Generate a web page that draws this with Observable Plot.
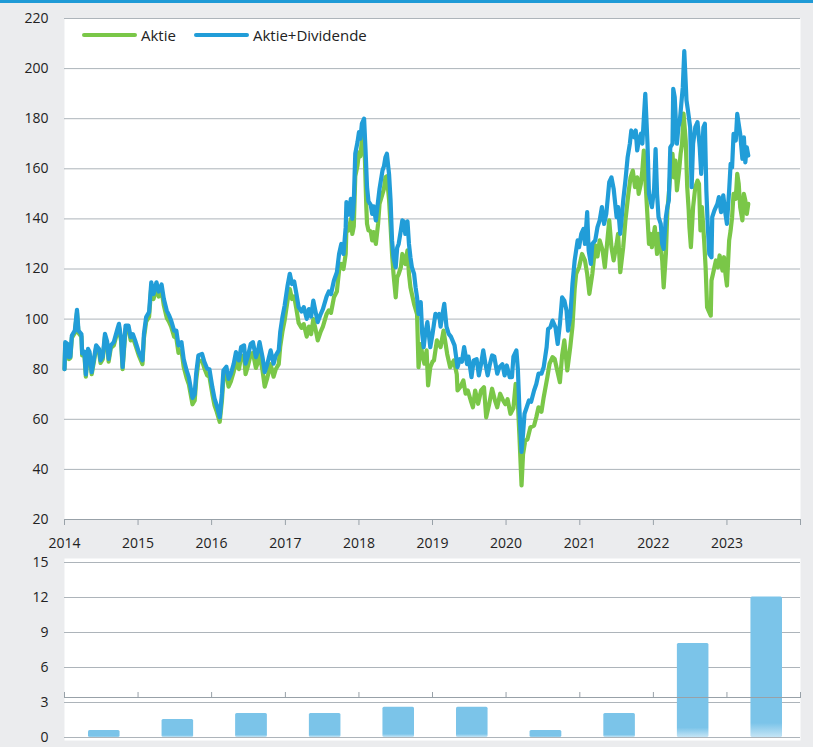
<!DOCTYPE html>
<html>
<head>
<meta charset="utf-8">
<script src="https://cdn.jsdelivr.net/npm/d3@7"></script>
<script src="https://cdn.jsdelivr.net/npm/@observablehq/plot@0.6"></script>
<style>
  html, body { margin: 0; padding: 0; }
  body { width: 813px; height: 747px; background: #ebecee; position: relative; overflow: hidden; font-family: "Open Sans", "Noto Sans", sans-serif; }
  #topbar { position: absolute; left: 0; top: 0; width: 813px; height: 3px; background: #1f9ad6; }
  #topwrap { position: absolute; left: 0; top: 0; }
  #bottomwrap { position: absolute; left: 0; top: 550px; }
  #legend { position: absolute; left: 82px; top: 25px; font-size: 15px; color: #222; display: flex; align-items: center; }
  .sw { display: inline-block; width: 55px; height: 4px; border-radius: 2px; margin-right: 4px; }
  .item { display: flex; align-items: center; margin-right: 4px; }
</style>
</head>
<body>
<div id="topwrap"></div>
<div id="bottomwrap"></div>
<div id="topbar"></div>
<div id="legend"></div>
<script>
// ---------- data (decimal year, value) ----------
const seriesNames = ["Aktie", "Aktie+Dividende"];
const seriesColors = ["#7ac748", "#219dd8"];

const aktie = [
[2014.00,80],[2014.01,90],[2014.045,89],[2014.06,84],[2014.08,84.5],[2014.10,92.5],[2014.14,94.5],[2014.17,102.5],[2014.19,94.5],[2014.23,93],
[2014.24,85.5],[2014.27,86],[2014.29,77],[2014.32,87],[2014.34,86],[2014.37,78],[2014.40,83],[2014.43,88.5],[2014.47,87],[2014.49,82.5],
[2014.52,84],[2014.55,93],[2014.58,90],[2014.60,83],[2014.63,88.5],[2014.67,89.5],[2014.72,95],[2014.74,97],[2014.77,91],[2014.79,80],
[2014.83,96],[2014.87,96],[2014.90,91.5],[2014.93,92.5],[2014.96,90],[2015.01,85.5],[2015.06,82],[2015.08,92.5],[2015.11,99],[2015.15,101],
[2015.18,113],[2015.21,108],[2015.25,112.5],[2015.28,109],[2015.32,111.5],[2015.35,105.5],[2015.39,100.5],[2015.42,99],[2015.45,97],[2015.49,93],
[2015.52,92.5],[2015.55,86.5],[2015.59,87.5],[2015.62,81],[2015.66,76.5],[2015.69,74],[2015.74,66],[2015.77,67.5],[2015.79,75.5],[2015.82,83],
[2015.87,83.5],[2015.90,80.5],[2015.94,77.5],[2015.97,77],[2016.01,70],[2016.04,65.5],[2016.07,63],[2016.11,59],[2016.14,67.5],[2016.16,76.5],
[2016.20,78],[2016.23,73],[2016.26,75],[2016.30,79],[2016.33,83.5],[2016.37,80],[2016.40,85],[2016.44,85.5],[2016.46,78],[2016.49,81],
[2016.53,86],[2016.56,86.5],[2016.60,80.5],[2016.63,83],[2016.65,86],[2016.69,79.5],[2016.72,73],[2016.75,76],[2016.80,82],[2016.84,77],
[2016.87,80],[2016.91,82],[2016.93,89],[2016.96,95],[2016.99,99.5],[2017.03,107.5],[2017.06,112],[2017.09,108],[2017.12,109],[2017.15,104],
[2017.18,98.5],[2017.22,96.5],[2017.25,98],[2017.29,93],[2017.32,97],[2017.35,94],[2017.38,100],[2017.41,96],[2017.44,91.5],[2017.48,95],
[2017.51,97],[2017.56,102],[2017.59,103.5],[2017.62,102.5],[2017.66,108.7],[2017.70,111],[2017.73,119.4],[2017.76,122],[2017.79,120],[2017.82,126],
[2017.83,136.7],[2017.86,135.4],[2017.89,140],[2017.91,134],[2017.93,137],[2017.95,157],[2017.98,161.3],[2018.00,166.6],[2018.02,165],[2018.04,171.3],
[2018.06,173],[2018.08,165],[2018.10,145],[2018.11,138],[2018.13,135.4],[2018.16,135],[2018.18,131.4],[2018.20,134.7],[2018.23,130],[2018.26,138],
[2018.28,146],[2018.32,150],[2018.34,152],[2018.36,156.6],[2018.38,157],[2018.41,147.4],[2018.43,137],[2018.45,126],[2018.47,118],[2018.50,108.7],
[2018.52,116.7],[2018.54,118],[2018.57,120.7],[2018.59,126],[2018.61,123.4],[2018.63,122],[2018.66,127.4],[2018.68,118],[2018.70,112.7],[2018.72,110],
[2018.75,106],[2018.77,104],[2018.79,102],[2018.81,80.8],[2018.84,90],[2018.86,86],[2018.89,82.2],[2018.92,87.5],[2018.94,73.5],[2018.97,80.8],
[2019.00,83],[2019.02,83.5],[2019.06,91.5],[2019.11,88.8],[2019.15,95.4],[2019.20,86],[2019.24,80.8],[2019.29,83.5],[2019.33,78],[2019.34,71.5],
[2019.38,73],[2019.42,75.5],[2019.45,70.2],[2019.48,71.5],[2019.52,67.5],[2019.55,64.8],[2019.58,71.5],[2019.62,66.2],[2019.66,71.5],[2019.70,72.8],
[2019.73,60.8],[2019.77,66],[2019.81,72.2],[2019.85,67.5],[2019.88,64.8],[2019.92,70.2],[2019.96,67.5],[2019.99,66],[2020.02,68],[2020.06,62.2],
[2020.10,64.5],[2020.13,74.1],[2020.15,73],[2020.18,54.2],[2020.21,33.6],[2020.23,46],[2020.26,51.5],[2020.29,52],[2020.33,56.8],[2020.38,57.5],
[2020.41,60.8],[2020.44,64.8],[2020.48,63],[2020.51,68.8],[2020.56,76.8],[2020.59,82.2],[2020.63,84.8],[2020.66,84],[2020.69,80],[2020.73,74.8],
[2020.76,85.5],[2020.79,91.5],[2020.83,79.5],[2020.87,88.8],[2020.90,97],[2020.93,112],[2020.95,118],[2020.99,120.7],[2021.03,126],[2021.07,123.4],
[2021.10,118],[2021.13,110.1],[2021.17,118],[2021.21,129.4],[2021.24,125],[2021.27,131.4],[2021.31,127.4],[2021.34,120.7],[2021.37,130],[2021.40,139.4],
[2021.43,128.7],[2021.46,123.4],[2021.50,130],[2021.52,134],[2021.55,118.7],[2021.59,128.7],[2021.62,139.4],[2021.66,150],[2021.69,156.6],[2021.72,159.3],
[2021.75,152.7],[2021.78,156.6],[2021.80,150],[2021.83,154],[2021.85,159.3],[2021.87,167.3],[2021.89,156.6],[2021.92,140.7],[2021.94,130],[2021.96,134],
[2021.98,128.7],[2022.02,136.7],[2022.05,126],[2022.07,134],[2022.10,128.7],[2022.12,123.4],[2022.14,112.7],[2022.17,126],[2022.19,143.4],[2022.21,150],
[2022.23,158],[2022.26,166],[2022.28,156.6],[2022.30,163.3],[2022.32,151.4],[2022.35,159.3],[2022.37,166],[2022.39,170],[2022.41,182],[2022.44,171],
[2022.46,152.7],[2022.48,143.4],[2022.49,136.7],[2022.51,128.7],[2022.54,144.7],[2022.57,152.7],[2022.60,155.3],[2022.62,154],[2022.64,135.4],[2022.66,144.7],
[2022.69,131.4],[2022.71,120.7],[2022.73,104.8],[2022.75,103.4],[2022.78,101.4],[2022.79,115.4],[2022.81,118],[2022.85,123.4],[2022.88,120.7],[2022.90,125.4],
[2022.94,119.4],[2022.96,124.7],[2022.98,118],[2023.00,113.4],[2023.03,131.4],[2023.05,135.4],[2023.07,140.7],[2023.09,150],[2023.12,148],[2023.14,158],
[2023.16,154],[2023.18,144.7],[2023.21,139.4],[2023.23,150],[2023.25,147.4],[2023.27,142],[2023.29,146]
];

const aktieDividende = [
[2014.00,80],[2014.01,90.8],[2014.045,90],[2014.06,84.8],[2014.08,85],[2014.10,93.4],[2014.14,95.4],[2014.17,103.7],[2014.19,95.4],[2014.23,94],
[2014.24,86.3],[2014.27,87],[2014.29,77.9],[2014.32,88.1],[2014.34,87],[2014.37,78.8],[2014.40,84.1],[2014.43,89.5],[2014.47,88],[2014.49,83.5],
[2014.52,85],[2014.55,94.1],[2014.58,91],[2014.60,84.1],[2014.63,89.5],[2014.67,90.8],[2014.72,96.1],[2014.74,98.1],[2014.77,92.1],[2014.79,80.8],
[2014.83,97.4],[2014.87,97.4],[2014.90,92.8],[2014.93,94],[2014.96,91.5],[2015.01,86.8],[2015.06,83.5],[2015.08,94.1],[2015.11,100.8],[2015.15,102.8],
[2015.18,114.7],[2015.21,110],[2015.25,114.7],[2015.28,111],[2015.32,113.8],[2015.35,108.1],[2015.39,103.4],[2015.42,101.6],[2015.45,99.4],[2015.49,95.4],
[2015.52,95.4],[2015.55,89.5],[2015.59,90.8],[2015.62,84.1],[2015.66,79.5],[2015.69,76.8],[2015.74,68.5],[2015.77,70],[2015.79,78.3],[2015.82,85.5],
[2015.87,86.1],[2015.90,83],[2015.94,80.2],[2015.97,80],[2016.01,72.8],[2016.04,68.2],[2016.07,65.5],[2016.11,60.8],[2016.14,70.2],[2016.16,79.5],
[2016.20,81],[2016.23,76.1],[2016.26,78],[2016.30,82.2],[2016.33,86.8],[2016.37,83.5],[2016.40,88.8],[2016.44,89.5],[2016.46,82.2],[2016.49,85],
[2016.53,90.1],[2016.56,90.8],[2016.60,84.8],[2016.63,87.5],[2016.65,90.8],[2016.69,84.8],[2016.72,78.8],[2016.75,81.5],[2016.80,87.5],[2016.84,82.2],
[2016.87,85.5],[2016.91,87.5],[2016.93,94.8],[2016.96,100.8],[2016.99,105.4],[2017.03,113.4],[2017.06,118.1],[2017.09,114],[2017.12,115],[2017.15,110.1],
[2017.18,104.8],[2017.22,103],[2017.25,104.8],[2017.29,100.1],[2017.32,104],[2017.35,101],[2017.38,107.4],[2017.41,103],[2017.44,98.8],[2017.48,102],
[2017.51,104],[2017.56,109],[2017.59,111],[2017.62,110],[2017.66,115.4],[2017.70,118.7],[2017.73,126],[2017.76,130],[2017.79,126],[2017.82,136.7],
[2017.83,146.7],[2017.86,141.7],[2017.89,148],[2017.91,140],[2017.93,147],[2017.95,166],[2017.98,170.6],[2018.00,174.6],[2018.02,172],[2018.04,178],
[2018.07,180],[2018.09,167.3],[2018.11,152.7],[2018.13,147],[2018.16,145.6],[2018.18,142],[2018.20,145],[2018.23,139.4],[2018.26,147],[2018.28,152],
[2018.32,159.3],[2018.34,161],[2018.36,164.6],[2018.38,166],[2018.41,157.6],[2018.43,147.4],[2018.45,131.4],[2018.47,124.7],[2018.50,120.7],[2018.52,128.5],
[2018.54,130],[2018.57,135.4],[2018.59,139.4],[2018.61,139],[2018.63,134],[2018.66,139],[2018.68,130],[2018.70,124.7],[2018.72,120.7],[2018.75,118],
[2018.77,112.7],[2018.79,108.7],[2018.81,102.1],[2018.84,106.8],[2018.86,94.1],[2018.88,88.8],[2018.90,94],[2018.93,98.8],[2018.95,94],[2018.97,88.8],
[2019.00,94],[2019.02,98.1],[2019.04,102.1],[2019.06,101],[2019.09,102],[2019.11,97],[2019.13,101],[2019.16,106.1],[2019.19,97],[2019.22,94.1],
[2019.25,93],[2019.30,89.5],[2019.34,80.8],[2019.37,84],[2019.40,83],[2019.43,88.8],[2019.47,82],[2019.49,85],[2019.53,76.8],[2019.56,83.5],
[2019.60,84],[2019.63,77.5],[2019.66,82],[2019.69,87.5],[2019.72,82],[2019.75,77.5],[2019.78,82],[2019.81,85.5],[2019.84,85],[2019.88,78.2],
[2019.91,80.8],[2019.95,82],[2019.98,77.5],[2020.01,81.5],[2020.05,76.8],[2020.08,76.8],[2020.10,85],[2020.14,87.5],[2020.16,80],[2020.18,64.8],
[2020.21,47],[2020.23,54],[2020.25,62.2],[2020.28,64.8],[2020.31,67.5],[2020.34,67],[2020.38,71.5],[2020.41,74.1],[2020.44,78.2],[2020.48,78.2],
[2020.51,80.8],[2020.55,88.8],[2020.57,96.1],[2020.60,96.7],[2020.63,99.4],[2020.67,96.7],[2020.70,90.1],[2020.73,98],[2020.76,108.7],[2020.79,107.4],
[2020.82,103.4],[2020.84,95.4],[2020.87,100.8],[2020.90,114],[2020.93,123.4],[2020.97,131.4],[2020.99,128.7],[2021.02,134],[2021.05,136],[2021.07,130],
[2021.10,142.7],[2021.12,127.4],[2021.15,122],[2021.17,130],[2021.21,131.4],[2021.24,136.7],[2021.27,139.4],[2021.30,144.7],[2021.33,138],[2021.36,142],
[2021.40,154.7],[2021.43,156.6],[2021.46,152],[2021.50,140.7],[2021.52,144.7],[2021.55,134],[2021.59,147.4],[2021.62,155.3],[2021.65,164.6],[2021.68,170],
[2021.70,175.3],[2021.74,172.6],[2021.76,175.3],[2021.78,167.3],[2021.80,171],[2021.83,174],[2021.85,170],[2021.87,180],[2021.89,189.9],[2021.92,170],
[2021.94,150],[2021.96,147.4],[2021.98,144.7],[2022.01,152],[2022.03,167.9],[2022.05,150],[2022.07,140.7],[2022.10,138],[2022.12,130],[2022.14,128],
[2022.17,140.7],[2022.19,144.7],[2022.21,147.4],[2022.23,168.6],[2022.26,170],[2022.27,191.9],[2022.29,188.6],[2022.32,170],[2022.34,176.6],[2022.36,179.3],
[2022.38,186],[2022.40,192.6],[2022.42,207],[2022.45,187.3],[2022.47,183.3],[2022.50,176.6],[2022.52,152.7],[2022.54,170],[2022.57,176.6],[2022.60,178.6],
[2022.63,168.6],[2022.65,158],[2022.68,176.6],[2022.70,178],[2022.72,151.4],[2022.74,136.7],[2022.76,126],[2022.79,124.7],[2022.80,140.7],[2022.83,143.4],
[2022.87,146],[2022.89,148.7],[2022.92,142.7],[2022.95,149.4],[2022.98,142],[2023.00,138],[2023.03,151.4],[2023.05,162],[2023.07,160.6],[2023.09,174],
[2023.12,171.3],[2023.14,181.9],[2023.16,177.9],[2023.18,174],[2023.21,164],[2023.23,172.6],[2023.25,162.6],[2023.27,168.6],[2023.29,165.3]
];

// Dividend bars
const barYears  = [2014, 2015, 2016, 2017, 2018, 2019, 2020, 2021, 2022, 2023];
const barValues = [0.6, 1.55, 2.05, 2.05, 2.6, 2.6, 0.6, 2.05, 8.05, 12.05];

// Tick labels
const xTickYears = [2014, 2015, 2016, 2017, 2018, 2019, 2020, 2021, 2022, 2023, 2024];
const xTickLabels = ["2014", "2015", "2016", "2017", "2018", "2019", "2020", "2021", "2022", "2023", ""];
const yTicksTop = [20, 40, 60, 80, 100, 120, 140, 160, 180, 200, 220];
const yTicksBottom = [0, 3, 6, 9, 12, 15];

// ---------- helpers ----------
const toDate = t => {
  const y = Math.floor(t);
  const s = Date.UTC(y, 0, 1), e = Date.UTC(y + 1, 0, 1);
  return new Date(s + (t - y) * (e - s));
};
const yearDate = y => new Date(Date.UTC(y, 0, 1));
const xDomain = [yearDate(xTickYears[0]), yearDate(xTickYears[xTickYears.length - 1])];
const xTicks = xTickYears.map(yearDate);
const labelOf = d => xTickLabels[xTickYears.indexOf(d.getUTCFullYear())];

const lines = [
  ...aktie.map(([t, v]) => ({date: toDate(t), value: v, series: seriesNames[0]})),
  ...aktieDividende.map(([t, v]) => ({date: toDate(t), value: v, series: seriesNames[1]}))
];
const bars = barYears.map((y, i) => ({date: yearDate(y), value: barValues[i]}));

const gridColor = "#adb4ba";
const axisColor = "#98a1a8";
const barColor = "#7bc4e9";
const font = {fontFamily: "'Open Sans', 'Noto Sans', sans-serif", fontSize: "14px", color: "#222", background: "transparent", overflow: "visible"};

// gradient defs for the slightly faded bar bottoms
const gradientDefs = () => {
  const ns = "http://www.w3.org/2000/svg";
  const defs = document.createElementNS(ns, "defs");
  const g = document.createElementNS(ns, "linearGradient");
  g.setAttribute("id", "barFade");
  g.setAttribute("x1", "0"); g.setAttribute("x2", "0");
  g.setAttribute("y1", "0"); g.setAttribute("y2", "1");
  [[0, barColor, 1], [0.9, barColor, 1], [1, "#c4e4f5", 1]].forEach(([o, c, a]) => {
    const s = document.createElementNS(ns, "stop");
    s.setAttribute("offset", o);
    s.setAttribute("stop-color", c);
    s.setAttribute("stop-opacity", a);
    g.append(s);
  });
  defs.append(g);
  return defs;
};

// ---------- top chart ----------
const topChart = Plot.plot({
  width: 813, height: 560,
  marginLeft: 64, marginRight: 13, marginTop: 18, marginBottom: 41,
  style: font,
  x: {type: "utc", domain: xDomain},
  y: {domain: [20, 220]},
  color: {domain: seriesNames, range: seriesColors},
  marks: [
    Plot.frame({fill: "white", stroke: null}),
    Plot.gridY(yTicksTop, {stroke: gridColor, strokeOpacity: 1}),
    Plot.ruleY([20], {stroke: axisColor}),
    Plot.line(lines, {x: "date", y: "value", stroke: "series", z: "series", strokeWidth: 4.2, strokeLinejoin: "round", strokeLinecap: "round"}),
    Plot.axisY(yTicksTop, {tickSize: 0, tickPadding: 16, fill: "#222", label: null}),
    Plot.axisX(xTicks, {tickSize: 6, tickPadding: 13, stroke: axisColor, fill: "#222", tickFormat: labelOf, label: null})
  ]
});
document.getElementById("topwrap").append(topChart);

// ---------- bottom chart ----------
const bottomChart = Plot.plot({
  width: 813, height: 197,
  marginLeft: 64, marginRight: 13, marginTop: 12, marginBottom: 10,
  style: font,
  x: {type: "utc", domain: xDomain},
  y: {domain: [0, 15]},
  marks: [
    gradientDefs,
    Plot.frame({fill: "white", stroke: null, insetTop: -4, insetBottom: -3}),
    Plot.gridY(yTicksBottom, {stroke: gridColor, strokeOpacity: 1}),
    Plot.rectY(bars, {x: "date", y: "value", interval: d3.utcYear, insetLeft: 24, insetRight: 18, fill: "url(#barFade)", rx: 1.5}),
    Plot.ruleY([0], {stroke: axisColor, dy: -40}),
    Plot.axisX(xTicks, {anchor: "top", tickSize: 6, dy: 135, stroke: axisColor, tickFormat: () => "", label: null}),
    Plot.axisY(yTicksBottom, {tickSize: 0, tickPadding: 16, fill: "#222", label: null})
  ]
});
document.getElementById("bottomwrap").append(bottomChart);

// ---------- legend ----------
const legend = document.getElementById("legend");
seriesNames.forEach((name, i) => {
  const item = document.createElement("div");
  item.className = "item";
  const sw = document.createElement("span");
  sw.className = "sw";
  sw.style.background = seriesColors[i];
  const label = document.createElement("span");
  label.textContent = name;
  item.append(sw, label);
  if (i === 0) item.style.marginRight = "18px";
  legend.append(item);
});
</script>
</body>
</html>
